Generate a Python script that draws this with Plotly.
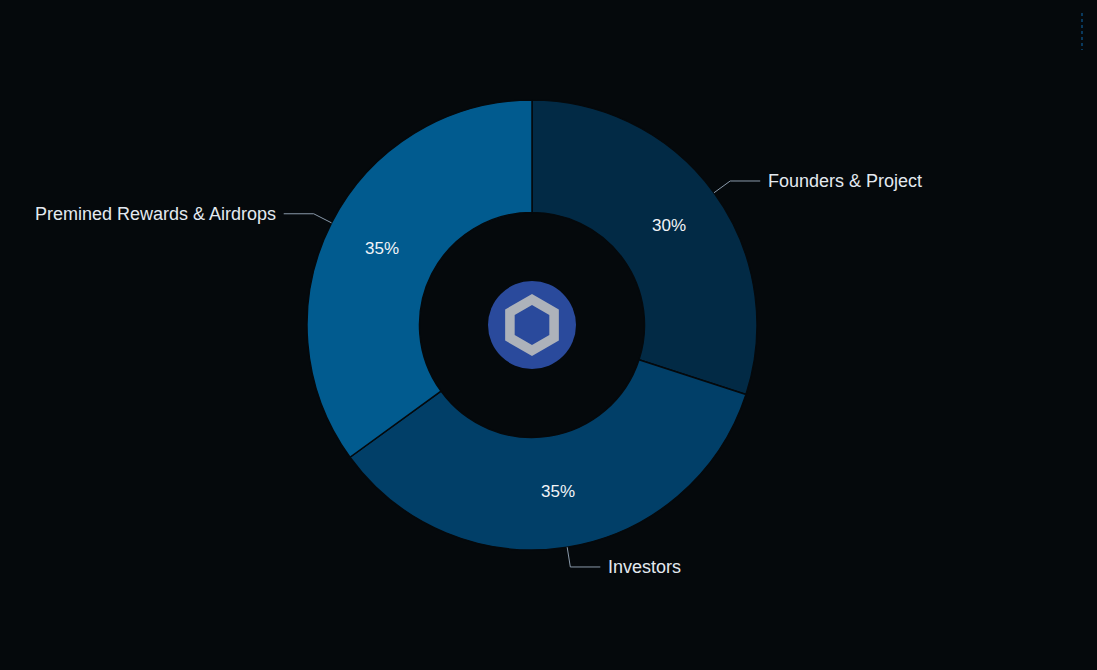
import math
import plotly.graph_objects as go

labels = ["Founders & Project", "Investors", "Premined Rewards & Airdrops"]
values = [30, 35, 35]
colors = ["#022a45", "#013f68", "#015b8f"]

W, H = 1097, 670
CX, CY = 532, 325          # pie centre in pixels
R_OUT, HOLE = 225, 0.5
BG = "#05090c"
FONT = "Liberation Sans, Arial"

fig = go.Figure()
fig.add_trace(go.Pie(
    labels=labels, values=values, hole=HOLE, sort=False, direction="clockwise",
    rotation=0, textinfo="none", hoverinfo="label+percent",
    marker=dict(colors=colors, line=dict(color=BG, width=1.5)),
    domain=dict(x=[(CX - R_OUT) / W, (CX + R_OUT) / W],
                y=[(H - CY - R_OUT) / H, (H - CY + R_OUT) / H]),
    showlegend=False,
))

def px(x, y):
    return x / W, 1 - y / H

shapes = []
annotations = []
total = sum(values)
cum = 0
r_mid = R_OUT * (1 + HOLE) / 2
for lab, v in zip(labels, values):
    ang = math.radians((cum + v / 2) / total * 360)
    cum += v
    sx, sy = math.sin(ang), -math.cos(ang)
    # percentage text
    tx, ty = px(CX + r_mid * sx, CY + r_mid * sy)
    annotations.append(dict(x=tx, y=ty, xref="paper", yref="paper",
                            xanchor="center", yanchor="middle",
                            text=f"{v / total * 100:.0f}%", showarrow=False,
                            font=dict(family=FONT, size=17, color="#f2f4f7")))
    # leader line
    p0 = (CX + R_OUT * sx, CY + R_OUT * sy)
    p1 = (CX + (R_OUT + 20) * sx, CY + (R_OUT + 20) * sy)
    side = 1 if sx >= 0 else -1
    p2 = (p1[0] + side * 30, p1[1])
    for a, b in ((p0, p1), (p1, p2)):
        ax, ay = px(*a)
        bx, by = px(*b)
        shapes.append(dict(type="line", xref="paper", yref="paper", x0=ax, y0=ay, x1=bx, y1=by,
                           line=dict(color="#8a9aab", width=1)))
    lx, ly = px(p2[0] + side * 6, p2[1])
    annotations.append(dict(x=lx, y=ly, xref="paper", yref="paper", text=lab, showarrow=False,
                            xanchor="left" if side > 0 else "right", yanchor="middle",
                            font=dict(family=FONT, size=18, color="#e3e9f0")))

# centre logo
ax_c, ay_c = px(CX, CY)
shapes.append(dict(type="circle", xref="paper", yref="paper", xsizemode="pixel", ysizemode="pixel",
                   xanchor=ax_c, yanchor=ay_c, x0=-44, x1=44, y0=-44, y1=44,
                   fillcolor="#2a4a9c", line=dict(width=0)))

def hexpath(r, reverse=False):
    pts = [(r * math.sin(math.radians(a)), r * math.cos(math.radians(a))) for a in range(0, 360, 60)]
    if reverse:
        pts = pts[::-1]
    return "M" + " L".join(f"{x:.2f},{y:.2f}" for x, y in pts) + " Z"

shapes.append(dict(type="path", xref="paper", yref="paper", xsizemode="pixel", ysizemode="pixel",
                   xanchor=ax_c, yanchor=ay_c, path=hexpath(31) + " " + hexpath(20, True),
                   fillcolor="#adb2ba", line=dict(width=0)))

# small dashed mark top-right
shapes.append(dict(type="line", xref="paper", yref="paper", x0=1082 / W, x1=1082 / W,
                   y0=1 - 13 / H, y1=1 - 50 / H, line=dict(color="#0b4a78", width=1.5, dash="dot")))

fig.update_layout(
    width=W, height=H, margin=dict(l=0, r=0, t=0, b=0),
    paper_bgcolor=BG, plot_bgcolor=BG,
    shapes=shapes, annotations=annotations,
)

fig.write_html("out.html", config={"displayModeBar": False},
               post_script="document.body.style.margin='0';document.body.style.background='%s';" % BG)
